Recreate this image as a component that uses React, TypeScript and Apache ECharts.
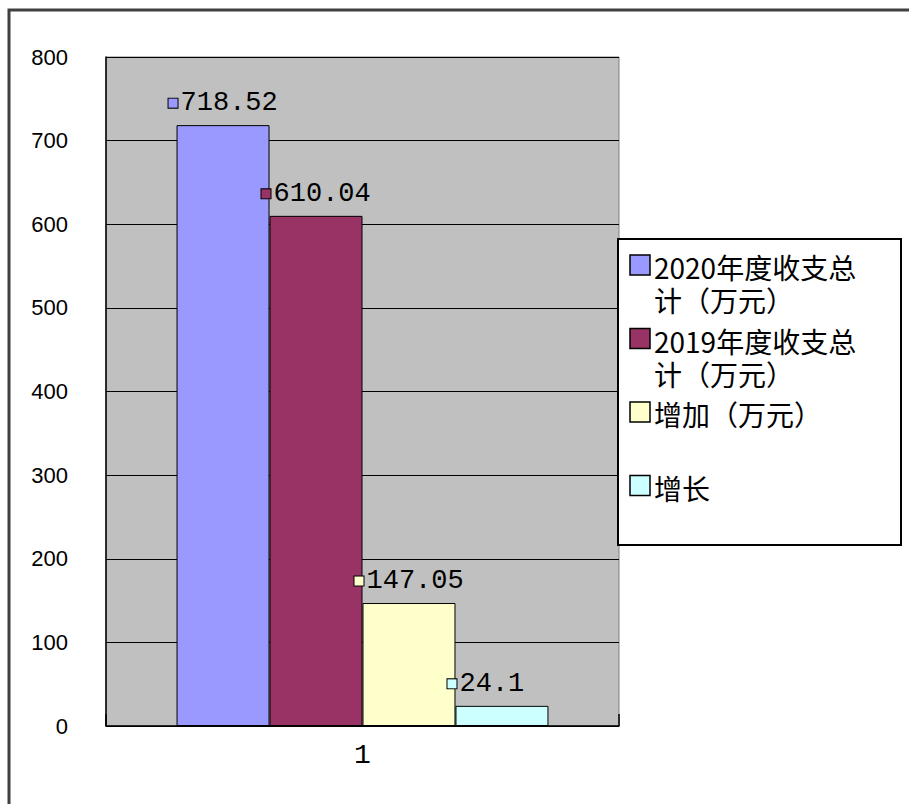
import React, { useEffect, useRef } from "react";
import * as echarts from "echarts";

const categories = ["1"];
const seriesNames = [
  "2020年度收支总计（万元）",
  "2019年度收支总计（万元）",
  "增加（万元）",
  "增长",
];
const seriesValues = [718.52, 610.04, 147.05, 24.1];
const seriesColors = ["#9999FF", "#993366", "#FFFFCC", "#CCFFFF"];
const yMin = 0;
const yMax = 800;
const yInterval = 100;

const GRID = { left: 106, top: 57, right: 619, bottom: 726 };

export default function App() {
  const ref = useRef<HTMLDivElement>(null);

  useEffect(() => {
    if (!ref.current) return;
    const chart = echarts.init(ref.current, undefined, { renderer: "svg" });

    const series = seriesNames.map((name, i) => ({
      name,
      type: "bar",
      data: [seriesValues[i]],
      barGap: "0%",
      barCategoryGap: "27.5%",
      itemStyle: { color: seriesColors[i], borderColor: "#000", borderWidth: 1 },
      label: {
        show: true,
        position: [-8, -22],
        align: "left",
        verticalAlign: "middle",
        formatter: (p: any) => `{s| }{v|${p.value}}`,
        rich: {
          s: {
            width: 9,
            height: 9,
            lineHeight: 9,
            backgroundColor: seriesColors[i],
            borderColor: "#000",
            borderWidth: 1,
            verticalAlign: "middle",
          },
          v: {
            fontFamily: "Liberation Mono",
            fontSize: 27,
            lineHeight: 30,
            color: "#000",
            padding: [0, 0, 0, 3],
            verticalAlign: "middle",
          },
        },
      },
    }));

    // legend drawn as graphic
    const legendX = 618;
    const legendY = 239;
    const legendW = 283;
    const legendH = 306;
    const rowStart = 267;
    const itemStep = 73.5;
    const lineStep = 33;
    const legendChildren: any[] = [
      {
        type: "rect",
        shape: { x: legendX, y: legendY, width: legendW, height: legendH },
        style: { fill: "#fff", stroke: "#000", lineWidth: 2 },
      },
    ];
    seriesNames.forEach((name, i) => {
      const lines = name.length > 9 ? [name.slice(0, 9), name.slice(9)] : [name];
      const cy = rowStart + i * itemStep;
      legendChildren.push({
        type: "rect",
        shape: { x: 630, y: cy - 12, width: 20, height: 20 },
        style: { fill: seriesColors[i], stroke: "#000", lineWidth: 1.5 },
      });
      legendChildren.push({
        type: "text",
        x: 654,
        y: cy - lineStep / 2,
        style: {
          text: lines.join("\n"),
          fontFamily: "Noto Sans CJK SC",
          fontSize: 28,
          lineHeight: lineStep,
          fill: "#000",
          verticalAlign: "top",
          align: "left",
        },
      });
    });

    chart.setOption({
      animation: false,
      backgroundColor: "#fff",
      grid: {
        left: GRID.left,
        top: GRID.top,
        width: GRID.right - GRID.left,
        height: GRID.bottom - GRID.top,
        show: true,
        backgroundColor: "#C0C0C0",
        borderColor: "#808080",
        borderWidth: 1,
      },
      xAxis: {
        type: "category",
        data: categories,
        axisLine: { show: true, lineStyle: { color: "#000", width: 1.5 } },
        axisTick: { show: true, inside: true, length: 12, lineStyle: { color: "#000", width: 1.5 } },
        axisLabel: {
          fontFamily: "Liberation Mono",
          fontSize: 28,
          color: "#000",
          margin: 15,
        },
      },
      yAxis: {
        type: "value",
        min: yMin,
        max: yMax,
        interval: yInterval,
        axisLine: { show: true, lineStyle: { color: "#000", width: 1.5 } },
        axisTick: { show: false },
        splitLine: { show: true, lineStyle: { color: "#000", width: 1.2 } },
        axisLabel: {
          fontFamily: "Liberation Sans",
          fontSize: 22,
          color: "#000",
          margin: 38,
        },
      },
      series,
      graphic: [
        {
          type: "rect",
          z: 100,
          silent: true,
          shape: { x: 9, y: 10, width: 960, height: 900 },
          style: { fill: "none", stroke: "#404040", lineWidth: 3 },
        },
        { type: "group", z: 50, children: legendChildren },
      ],
    });

    return () => chart.dispose();
  }, []);

  return (
    <div
      ref={ref}
      style={{ position: "fixed", left: 0, top: 0, width: 909, height: 804 }}
    />
  );
}
